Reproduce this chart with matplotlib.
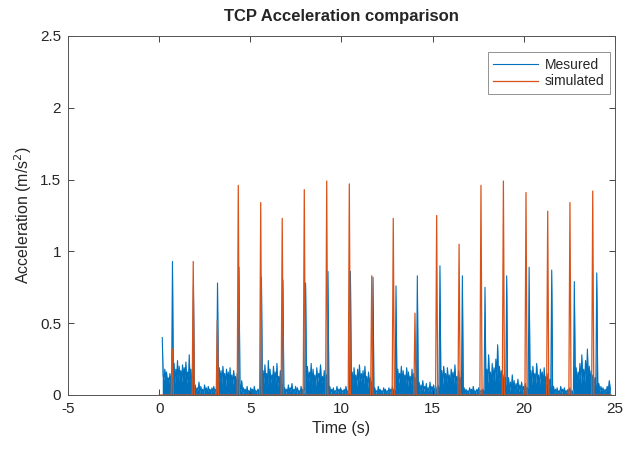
import numpy as np
import matplotlib
matplotlib.use("Agg")
from matplotlib import pyplot as plt

# %% data
# simulated (orange) spikes: time (s), height (m/s^2)
sim_t = [0.72, 1.87, 3.19, 4.34, 5.57, 6.75, 7.96, 9.19, 10.43, 11.66,
         12.84, 14.03, 15.22, 16.45, 17.65, 18.88, 20.12, 21.31, 22.53, 23.78]
sim_h = [0.32, 0.93, 0.52, 1.46, 1.34, 1.23, 1.43, 1.49, 1.47, 0.83,
         1.23, 0.57, 1.25, 1.05, 1.46, 1.49, 1.41, 1.28, 1.34, 1.42]

# measured (blue) spikes
mes_t = [0.17, 0.73, 1.88, 3.20, 4.38, 5.61, 6.79, 8.03, 9.26, 10.49, 11.73,
         12.99, 14.16, 15.40, 16.63, 17.87, 19.06, 20.29, 21.53, 22.77, 24.00]
mes_h = [0.40, 0.93, 0.76, 0.78, 0.89, 0.82, 0.80, 0.78, 0.86, 0.86, 0.82,
         0.76, 0.83, 0.90, 0.83, 0.75, 0.83, 0.89, 0.87, 0.79, 0.85]
mes_end = 24.8

# measured noise between spikes (one list per gap)
noise = [
    [0.14, 0.10, 0.18, 0.11, 0.16, 0.09, 0.12, 0.08, 0.15, 0.10, 0.12],
    [0.10, 0.22, 0.08, 0.18, 0.12, 0.24, 0.07, 0.20, 0.13, 0.17, 0.09, 0.21,
     0.11, 0.19, 0.12, 0.23, 0.08, 0.16, 0.10, 0.28, 0.09, 0.18, 0.07, 0.14],
    [0.02, 0.07, 0.01, 0.05, 0.03, 0.09, 0.01, 0.06, 0.02, 0.04, 0.01, 0.07,
     0.02, 0.05, 0.01, 0.06, 0.03, 0.04, 0.01, 0.05, 0.02, 0.06, 0.01, 0.04, 0.02],
    [0.08, 0.19, 0.10, 0.17, 0.07, 0.20, 0.11, 0.15, 0.06, 0.18, 0.10, 0.16,
     0.08, 0.19, 0.09, 0.14, 0.07, 0.17, 0.09, 0.13, 0.05, 0.15, 0.06],
    [0.08, 0.02, 0.10, 0.01, 0.05, 0.02, 0.04, 0.01, 0.06, 0.02, 0.03, 0.01,
     0.05, 0.02, 0.04, 0.01, 0.06, 0.02, 0.03, 0.01, 0.04, 0.02, 0.05, 0.01],
    [0.08, 0.17, 0.07, 0.21, 0.10, 0.15, 0.06, 0.24, 0.09, 0.18, 0.08, 0.14,
     0.11, 0.20, 0.07, 0.16, 0.09, 0.22, 0.06, 0.13, 0.08, 0.17, 0.05, 0.12],
    [0.02, 0.05, 0.01, 0.04, 0.02, 0.07, 0.01, 0.05, 0.03, 0.08, 0.01, 0.04,
     0.02, 0.06, 0.01, 0.05, 0.02, 0.03, 0.01, 0.06, 0.02, 0.04, 0.01, 0.05],
    [0.09, 0.20, 0.08, 0.16, 0.11, 0.22, 0.07, 0.18, 0.10, 0.14, 0.06, 0.19,
     0.09, 0.15, 0.12, 0.21, 0.08, 0.13, 0.09, 0.17, 0.06, 0.14, 0.07],
    [0.03, 0.06, 0.01, 0.04, 0.02, 0.05, 0.01, 0.03, 0.02, 0.06, 0.01, 0.04,
     0.02, 0.05, 0.01, 0.03, 0.02, 0.04, 0.01, 0.06, 0.02, 0.03, 0.01, 0.04],
    [0.08, 0.16, 0.07, 0.19, 0.10, 0.14, 0.06, 0.18, 0.09, 0.21, 0.08, 0.15,
     0.11, 0.17, 0.07, 0.20, 0.08, 0.13, 0.05, 0.16, 0.07, 0.12, 0.05, 0.10],
    [0.02, 0.05, 0.01, 0.03, 0.02, 0.06, 0.01, 0.04, 0.02, 0.03, 0.01, 0.05,
     0.02, 0.04, 0.01, 0.03, 0.02, 0.05, 0.01, 0.04, 0.02, 0.06, 0.01, 0.04, 0.02],
    [0.09, 0.18, 0.08, 0.15, 0.11, 0.20, 0.07, 0.17, 0.10, 0.14, 0.08, 0.19,
     0.06, 0.16, 0.09, 0.13, 0.07, 0.18, 0.06, 0.15, 0.07, 0.12, 0.05],
    [0.04, 0.09, 0.02, 0.07, 0.03, 0.10, 0.02, 0.06, 0.04, 0.08, 0.01, 0.05,
     0.03, 0.09, 0.02, 0.06, 0.03, 0.07, 0.01, 0.05, 0.02, 0.06, 0.03, 0.08],
    [0.08, 0.17, 0.07, 0.20, 0.10, 0.15, 0.08, 0.19, 0.09, 0.14, 0.06, 0.18,
     0.11, 0.16, 0.07, 0.21, 0.08, 0.13, 0.07, 0.17, 0.05, 0.12, 0.05],
    [0.02, 0.05, 0.01, 0.04, 0.02, 0.03, 0.01, 0.05, 0.02, 0.04, 0.01, 0.06,
     0.02, 0.03, 0.01, 0.04, 0.02, 0.05, 0.01, 0.03, 0.02, 0.04, 0.01, 0.05],
    [0.09, 0.18, 0.08, 0.28, 0.11, 0.16, 0.07, 0.22, 0.10, 0.19, 0.09, 0.25,
     0.13, 0.35, 0.09, 0.20, 0.08, 0.17, 0.10, 0.14, 0.06, 0.12, 0.06],
    [0.04, 0.12, 0.02, 0.09, 0.05, 0.14, 0.03, 0.10, 0.02, 0.08, 0.04, 0.11,
     0.02, 0.07, 0.03, 0.09, 0.01, 0.06, 0.03, 0.08, 0.02, 0.05, 0.03],
    [0.08, 0.17, 0.07, 0.20, 0.10, 0.15, 0.08, 0.22, 0.09, 0.14, 0.06, 0.18,
     0.11, 0.16, 0.07, 0.19, 0.08, 0.13, 0.07, 0.15, 0.05, 0.11, 0.05],
    [0.03, 0.06, 0.01, 0.04, 0.02, 0.05, 0.01, 0.03, 0.02, 0.06, 0.01, 0.04,
     0.02, 0.05, 0.01, 0.03, 0.02, 0.04, 0.01, 0.05, 0.02, 0.03, 0.01, 0.04],
    [0.09, 0.19, 0.08, 0.16, 0.11, 0.22, 0.07, 0.28, 0.10, 0.18, 0.09, 0.24,
     0.12, 0.32, 0.09, 0.20, 0.08, 0.17, 0.10, 0.14, 0.06, 0.12, 0.06],
    [0.04, 0.08, 0.02, 0.06, 0.03, 0.05, 0.01, 0.04, 0.02, 0.06, 0.03, 0.10, 0.04],
]

x_ticks = [-5, 0, 5, 10, 15, 20, 25]
y_ticks = [0, 0.5, 1, 1.5, 2, 2.5]
y_labels = ["0", "0.5", "1", "1.5", "2", "2.5"]

# %% build series
t_m, a_m = [], []
bounds = mes_t + [mes_end]
for k in range(len(mes_t)):
    t_m.append(mes_t[k])
    a_m.append(mes_h[k])
    seg = noise[k]
    tt = np.linspace(bounds[k], bounds[k + 1], len(seg) + 2)[1:-1]
    t_m.extend(tt)
    a_m.extend(seg)

t_s, a_s = [0.0], [0.0]
for t, h in zip(sim_t, sim_h):
    t_s += [t - 0.06, t, t + 0.06]
    a_s += [0.0, h, 0.0]
t_s.append(mes_end)
a_s.append(0.0)

# %% plot
plt.rcParams['font.family'] = ['Liberation Sans', 'DejaVu Sans']
plt.rcParams['axes.unicode_minus'] = False
txt = '#262626'
blue = '#0072BD'
fig = plt.figure(figsize=(6.26, 4.51), dpi=100)
ax = fig.add_axes([0.1086, 0.1242, 0.8738, 0.796])

# dense sampling shows as a filled band under the trace
ax.fill_between(t_m, 0, a_m, color=blue, lw=0)
ax.plot(t_m, a_m, color=blue, lw=0.8, label='Mesured')
ax.plot(t_s, a_s, color='#D95319', lw=0.9, label='simulated')

ax.set_xlim(-5, 25)
ax.set_ylim(0, 2.5)
ax.set_xticks(x_ticks)
ax.set_yticks(y_ticks)
ax.set_yticklabels(y_labels)
ax.tick_params(direction='in', top=True, right=True, length=4, width=0.6,
               colors=txt, labelsize=11, pad=5)
for s in ax.spines.values():
    s.set_color('#555555')
    s.set_linewidth(0.7)

ax.set_title('TCP Acceleration comparison', fontsize=12, fontweight='bold',
             color=txt, pad=11)
ax.set_xlabel('Time (s)', fontsize=11.5, color=txt, labelpad=4)
ax.set_ylabel('Acceleration (m/s$^2$)', fontsize=11.5, color=txt, labelpad=4)

leg = ax.legend(loc='upper right', bbox_to_anchor=(0.991, 0.955),
                borderaxespad=0, fancybox=False, fontsize=10,
                handlelength=3.2, handletextpad=0.5, borderpad=0.4,
                labelspacing=0.2)
leg.get_frame().set_edgecolor('#777777')
leg.get_frame().set_linewidth(0.7)
for t in leg.get_texts():
    t.set_color(txt)

fig.savefig('out.png', dpi=100)
